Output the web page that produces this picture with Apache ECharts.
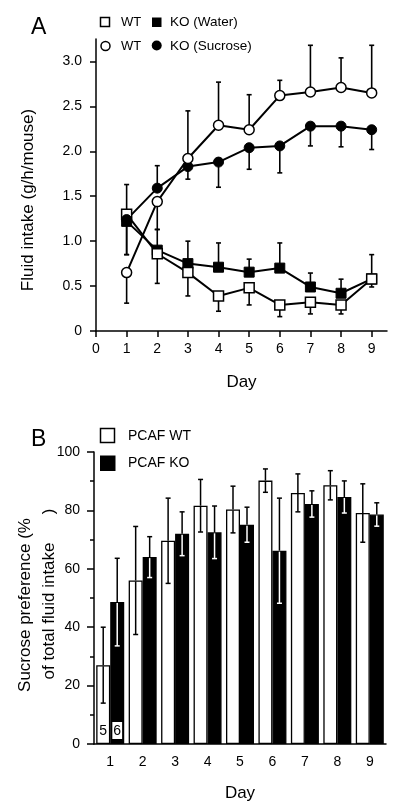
<!DOCTYPE html>
<html>
<head>
<meta charset="utf-8">
<script src="https://cdn.jsdelivr.net/npm/echarts@6/dist/echarts.min.js"></script>
<style>
html,body{margin:0;padding:0;background:#fff;}
#chart{width:403px;height:810px;}
</style>
</head>
<body>
<div id="chart"></div>
<script>
// ---------- Panel A data ----------
const days = [1, 2, 3, 4, 5, 6, 7, 8, 9];
const xTicksA = [0, 1, 2, 3, 4, 5, 6, 7, 8, 9];
const yTicksA = [0, 0.5, 1.0, 1.5, 2.0, 2.5, 3.0];
const wtWater = [1.30, 0.86, 0.65, 0.39, 0.48, 0.29, 0.32, 0.29, 0.58];
const wtWaterErr = [0.33, 0.33, 0.26, 0.17, 0.19, 0.13, 0.13, 0.10, 0.27];
const wtWaterDir = [1, -1, -1, -1, -1, -1, -1, -1, 1];
const koWater = [1.22, 0.90, 0.75, 0.71, 0.655, 0.70, 0.49, 0.42, 0.58];
const koWaterErr = [0.37, 0.23, 0.25, 0.27, 0.145, 0.28, 0.155, 0.157, 0.09];
const koWaterDir = [-1, 1, 1, 1, 1, 1, 1, 1, -1];
const wtSucrose = [0.65, 1.44, 1.92, 2.29, 2.24, 2.62, 2.66, 2.71, 2.65];
const wtSucroseErr = [0.34, 0.31, 0.53, 0.48, 0.39, 0.17, 0.52, 0.33, 0.53];
const wtSucroseDir = [-1, -1, 1, 1, 1, 1, 1, 1, 1];
const koSucrose = [1.24, 1.59, 1.83, 1.88, 2.04, 2.06, 2.28, 2.28, 2.24];
const koSucroseErr = [0.39, 0.25, 0.14, 0.28, 0.24, 0.30, 0.22, 0.23, 0.22];
const koSucroseDir = [-1, 1, -1, -1, -1, -1, -1, -1, -1];

// ---------- Panel B data ----------
const dayCats = ['1', '2', '3', '4', '5', '6', '7', '8', '9'];
const yTicksB = [0, 20, 40, 60, 80, 100];
const pcafWT = [27, 56, 69.6, 81.6, 80.3, 90.2, 86, 88.6, 79.1];
const pcafWTErr = [13, 18.5, 14.6, 9, 8, 4, 6.5, 5, 10];
const pcafKO = [48.6, 64, 72, 72.5, 75.1, 66.2, 82.2, 84.6, 78.6];
const pcafKOErr = [15, 7, 7.5, 9, 6, 18, 4.5, 5.5, 4];
const nWT = '5';
const nKO = '6';

const FONT = 'Liberation Sans, Arial, Helvetica, sans-serif';
const chart = echarts.init(document.getElementById('chart'), null, {renderer: 'canvas'});

function lineData(vals) { return days.map((d, i) => [d, vals[i]]); }
function errData(vals, errs, dirs) { return days.map((d, i) => [d, vals[i], errs[i] * dirs[i]]); }

function errA(params, api) {
  const x = api.value(0), y = api.value(1), e = api.value(2);
  if (!e) return null;
  const p0 = api.coord([x, y]), p1 = api.coord([x, y + e]);
  const st = {stroke: '#000', lineWidth: 1.6};
  return {type: 'group', children: [
    {type: 'line', shape: {x1: p0[0], y1: p0[1], x2: p1[0], y2: p1[1]}, style: st},
    {type: 'line', shape: {x1: p1[0] - 2.5, y1: p1[1], x2: p1[0] + 2.5, y2: p1[1]}, style: st}
  ]};
}

function makeErrB(offset, lowColor) {
  return function (params, api) {
    const c = api.value(0), v = api.value(1), e = api.value(2);
    const p0 = api.coord([c, v]);
    const pu = api.coord([c, v + e]);
    const pd = api.coord([c, v - e]);
    const x = p0[0] + offset;
    const up = {stroke: '#000', lineWidth: 1.5};
    const dn = {stroke: lowColor, lineWidth: 1.5};
    return {type: 'group', children: [
      {type: 'line', shape: {x1: x, y1: p0[1], x2: x, y2: pu[1]}, style: up},
      {type: 'line', shape: {x1: x - 2.5, y1: pu[1], x2: x + 2.5, y2: pu[1]}, style: up},
      {type: 'line', shape: {x1: x, y1: p0[1] + 1, x2: x, y2: pd[1]}, style: dn},
      {type: 'line', shape: {x1: x - 2.5, y1: pd[1], x2: x + 2.5, y2: pd[1]}, style: dn}
    ]};
  };
}

const lineStyle = {color: '#000', width: 2};
const openItem = {color: '#fff', borderColor: '#000', borderWidth: 1.5};
const fillItem = {color: '#000', borderColor: '#000', borderWidth: 1};

function lineSeries(name, vals, symbol, item, size) {
  return {
    name: name, type: 'line', xAxisIndex: 0, yAxisIndex: 0,
    data: lineData(vals), symbol: symbol, symbolSize: size, showSymbol: true,
    lineStyle: lineStyle, itemStyle: item, z: 3, animation: false
  };
}
function errSeries(vals, errs, dirs) {
  return {
    type: 'custom', xAxisIndex: 0, yAxisIndex: 0, renderItem: errA,
    data: errData(vals, errs, dirs), z: 2, animation: false, silent: true
  };
}

const axisLineStyle = {color: '#000', width: 1.5};
const labelStyle = {color: '#000', fontSize: 14, fontFamily: FONT};

const option = {
  animation: false,
  backgroundColor: '#fff',
  textStyle: {fontFamily: FONT},
  grid: [
    {left: 96, top: 39, width: 291, height: 292},
    {left: 94, top: 452, width: 292, height: 292}
  ],
  xAxis: [
    {
      type: 'value', gridIndex: 0, min: 0, max: 9.5, interval: 1,
      axisLine: {show: true, lineStyle: axisLineStyle, onZero: false},
      axisTick: {show: true, length: 6, lineStyle: axisLineStyle, customValues: xTicksA},
      axisLabel: Object.assign({margin: 11, customValues: xTicksA}, labelStyle),
      splitLine: {show: false},
      name: 'Day', nameLocation: 'middle', nameGap: 43,
      nameTextStyle: {color: '#000', fontSize: 17, fontFamily: FONT}
    },
    {
      type: 'category', gridIndex: 1, data: dayCats,
      axisLine: {show: true, lineStyle: axisLineStyle, onZero: false},
      axisTick: {show: false},
      axisLabel: Object.assign({margin: 11}, labelStyle),
      name: 'Day', nameLocation: 'middle', nameGap: 41,
      nameTextStyle: {color: '#000', fontSize: 17, fontFamily: FONT}
    }
  ],
  yAxis: [
    {
      type: 'value', gridIndex: 0, min: 0, max: 3.25, interval: 0.5,
      axisLine: {show: true, lineStyle: axisLineStyle, onZero: false},
      axisTick: {show: true, length: 6, lineStyle: axisLineStyle, customValues: yTicksA},
      axisLabel: Object.assign({margin: 14, customValues: yTicksA,
        formatter: v => (v === 0 ? '0' : v.toFixed(1))}, labelStyle),
      splitLine: {show: false}
    },
    {
      type: 'value', gridIndex: 1, min: 0, max: 100, interval: 20,
      axisLine: {show: true, lineStyle: axisLineStyle, onZero: false},
      axisTick: {show: true, length: 7, lineStyle: axisLineStyle},
      minorTick: {show: true, splitNumber: 2, length: 4, lineStyle: {color: '#000', width: 1.5}},
      axisLabel: Object.assign({margin: 14}, labelStyle),
      splitLine: {show: false}, minorSplitLine: {show: false}
    }
  ],
  series: [
    errSeries(wtWater, wtWaterErr, wtWaterDir),
    errSeries(koWater, koWaterErr, koWaterDir),
    errSeries(wtSucrose, wtSucroseErr, wtSucroseDir),
    errSeries(koSucrose, koSucroseErr, koSucroseDir),
    lineSeries('KO (Water)', koWater, 'rect', fillItem, 10),
    lineSeries('WT (Water)', wtWater, 'rect', openItem, 10),
    lineSeries('KO (Sucrose)', koSucrose, 'circle', fillItem, 10),
    lineSeries('WT (Sucrose)', wtSucrose, 'circle', openItem, 10),
    {
      name: 'PCAF WT', type: 'bar', xAxisIndex: 1, yAxisIndex: 1,
      barWidth: 14, barGap: '0%',
      itemStyle: {color: '#fff', borderColor: '#000', borderWidth: 1.3},
      data: pcafWT.map((v, i) => i === 0 ? {value: v, label: {show: true, formatter: nWT}} : v),
      label: {show: false, position: 'insideBottom', distance: 5, color: '#000', fontSize: 14,
        fontFamily: FONT, backgroundColor: '#fff', padding: [2, 1, 1, 1]},
      z: 2
    },
    {
      name: 'PCAF KO', type: 'bar', xAxisIndex: 1, yAxisIndex: 1,
      barWidth: 14, barGap: '0%',
      itemStyle: {color: '#000', borderColor: '#000', borderWidth: 1.3},
      data: pcafKO.map((v, i) => i === 0 ? {value: v, label: {show: true, formatter: nKO}} : v),
      label: {show: false, position: 'insideBottom', distance: 5, color: '#000', fontSize: 14,
        fontFamily: FONT, backgroundColor: '#fff', padding: [2, 1, 1, 1]},
      z: 2
    },
    {
      type: 'custom', xAxisIndex: 1, yAxisIndex: 1, renderItem: makeErrB(-7, '#000'),
      data: pcafWT.map((v, i) => [i, v, pcafWTErr[i]]), z: 4, silent: true
    },
    {
      type: 'custom', xAxisIndex: 1, yAxisIndex: 1, renderItem: makeErrB(7, '#fff'),
      data: pcafKO.map((v, i) => [i, v, pcafKOErr[i]]), z: 4, silent: true
    }
  ],
  graphic: [
    {type: 'text', left: 31, top: 16, style: {text: 'A', fontSize: 23, fontFamily: FONT, fill: '#000'}},
    {type: 'text', left: 31, top: 428, style: {text: 'B', fontSize: 23, fontFamily: FONT, fill: '#000'}},
    // Panel A legend
    {type: 'rect', shape: {x: 100.5, y: 17.5, width: 9, height: 9}, style: {fill: '#fff', stroke: '#000', lineWidth: 1.5}},
    {type: 'text', x: 121, y: 22, style: {text: 'WT', fontSize: 13, fontFamily: FONT, fill: '#000', verticalAlign: 'middle'}},
    {type: 'rect', shape: {x: 152, y: 17.5, width: 9.5, height: 9.5}, style: {fill: '#000'}},
    {type: 'text', x: 170, y: 22, style: {text: 'KO (Water)', fontSize: 13.5, fontFamily: FONT, fill: '#000', verticalAlign: 'middle'}},
    {type: 'circle', shape: {cx: 105.5, cy: 46, r: 4.5}, style: {fill: '#fff', stroke: '#000', lineWidth: 1.5}},
    {type: 'text', x: 121, y: 46, style: {text: 'WT', fontSize: 13, fontFamily: FONT, fill: '#000', verticalAlign: 'middle'}},
    {type: 'circle', shape: {cx: 156.7, cy: 45.5, r: 5}, style: {fill: '#000'}},
    {type: 'text', x: 170, y: 46, style: {text: 'KO (Sucrose)', fontSize: 13.5, fontFamily: FONT, fill: '#000', verticalAlign: 'middle'}},
    // Panel B legend
    {type: 'rect', shape: {x: 100.5, y: 428.5, width: 14, height: 14}, style: {fill: '#fff', stroke: '#000', lineWidth: 1.5}},
    {type: 'text', x: 128, y: 436, style: {text: 'PCAF WT', fontSize: 14, fontFamily: FONT, fill: '#000', verticalAlign: 'middle'}},
    {type: 'rect', shape: {x: 100, y: 455.5, width: 15.5, height: 15.5}, style: {fill: '#000'}},
    {type: 'text', x: 128, y: 463, style: {text: 'PCAF KO', fontSize: 14, fontFamily: FONT, fill: '#000', verticalAlign: 'middle'}},
    // Axis titles (rotated)
    {type: 'text', x: 28, y: 200, rotation: Math.PI / 2,
      style: {text: 'Fluid intake (g/h/mouse)', fontSize: 17, fontFamily: FONT, fill: '#000', align: 'center', verticalAlign: 'middle'}},
    {type: 'text', x: 25, y: 605, rotation: Math.PI / 2,
      style: {text: 'Sucrose preference (%', fontSize: 17, fontFamily: FONT, fill: '#000', align: 'center', verticalAlign: 'middle'}},
    {type: 'text', x: 49, y: 594, rotation: Math.PI / 2,
      style: {text: 'of total fluid intake      )', fontSize: 17, fontFamily: FONT, fill: '#000', align: 'center', verticalAlign: 'middle'}}
  ]
};
chart.setOption(option);
</script>
</body>
</html>
